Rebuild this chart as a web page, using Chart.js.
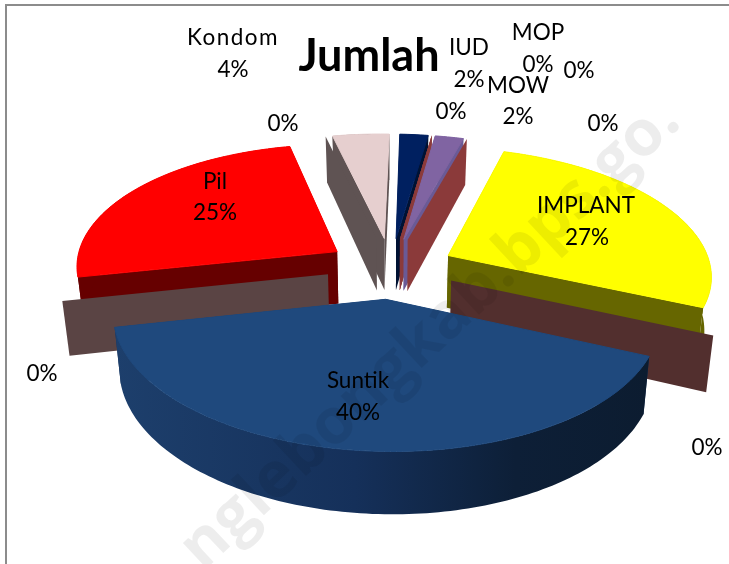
<!DOCTYPE html>
<html>
<head>
<meta charset="utf-8">
<style>
html,body{margin:0;padding:0;background:#fff;}
#wrap{position:absolute;left:0;top:0;width:729px;height:564px;overflow:hidden;}
#frame{position:absolute;left:5px;top:4px;right:-5px;bottom:-5px;border-left:2px solid #8c8c8c;border-top:2px solid #8c8c8c;}
canvas{position:absolute;left:0;top:0;}
</style>
<script src="https://cdn.jsdelivr.net/npm/chart.js@4"></script>
</head>
<body>
<div id="wrap"><div id="frame"></div><canvas id="c" width="729" height="564"></canvas></div>
<script>
// ---- data ----
const categories = ['IUD','','MOP','','MOW','','IMPLANT','','Suntik','','Pil','','Kondom'];
const values     = [2,0,0,0,2,0,27,0,40,0,25,0,4];
const titleText  = 'Jumlah';
const watermark  = 'nglebongkab.bps.go.';

// ---- styles ----
const topColors  = ['#002060','#8b3a3a','#8b3a3a','#8b3a3a','#8064a2','#8b3a3a','#ffff00','#522f2e','#1f497d','#5a4444','#ff0000','#5f5353','#e6cfcf'];
const sideColors = ['#001233','#8b3a3a','#8b3a3a','#8b3a3a','#6a5a96','#8b3a3a','#666600','#522f2e','#14305a','#5a4444','#660000','#5f5353','#5f5353'];
// label anchors: [name x, name y, value x, value y]
const labelAnchors = [
  [469,48,469,80],[0,0,451,112],[538,33,538,65],[0,0,579,71],[518,86,518,117],[0,0,603,124],
  [586,206,587,238],[0,0,707,448],[358,381,358,413],[0,0,42,374],[215,182,215,213],[0,0,283,124],[233,38,233,70]
];
// view of the tilted, exploded pie
const view = {cx:391, cy:268, a:124.5, b:-0.1256, c:262.5, skew:0.025, drop:53, taper:0.978, explode:0.245};

function project(X, Y, low){
  const d = 1 + view.b*Y;
  let x = view.cx + view.c*(X + view.skew*Y)/d;
  let y = view.cy + view.a*Y/d;
  if(low){ y += view.drop/d; x = view.cx + (x-view.cx)*view.taper; }
  return [x,y];
}
function poly(ctx, pts, fill, seal){
  ctx.beginPath();
  pts.forEach((p,i)=> i?ctx.lineTo(p[0],p[1]):ctx.moveTo(p[0],p[1]));
  ctx.closePath();
  ctx.fillStyle = fill;
  ctx.fill();
  if(seal){ ctx.strokeStyle = fill; ctx.lineWidth = 1; ctx.lineJoin='round'; ctx.stroke(); }
}
const pie3d = {
  id:'pie3d',
  beforeDatasetDraw(chart, args){
    const ctx = chart.ctx, arcs = args.meta.data;
    const items = arcs.map((el,i)=>{
      const p = el.getProps(['startAngle','endAngle'], true);
      const mid = (p.startAngle+p.endAngle)/2;
      return {i, s:p.startAngle, e:p.endAngle, ox:view.explode*Math.cos(mid), oy:view.explode*Math.sin(mid)};
    }).sort((m,n)=>m.oy-n.oy);
    items.forEach(it=>{
      const top = topColors[it.i], side = sideColors[it.i];
      const apex = [it.ox,it.oy];
      const rim = [];
      const n = Math.max(1, Math.ceil((it.e-it.s)/0.02));
      for(let k=0;k<=n;k++){
        const a = it.s + (it.e-it.s)*k/n;
        rim.push([it.ox+Math.cos(a), it.oy+Math.sin(a)]);
      }
      const P = (q,low)=>project(q[0],q[1],low);
      const first = rim[0], last = rim[rim.length-1];
      // cut walls
      poly(ctx,[P(apex),P(first),P(first,true),P(apex,true)],side);
      if(it.e>it.s) poly(ctx,[P(apex),P(last),P(last,true),P(apex,true)],side);
      if(it.e>it.s){
        // rim wall
        let fill = side;
        if(categories[it.i]==='Suntik'){
          const g = ctx.createLinearGradient(P(last)[0],0,P(first)[0],0);
          g.addColorStop(0,'#1d3f6c'); g.addColorStop(0.45,'#15305a'); g.addColorStop(0.75,'#0d1f37'); g.addColorStop(1,'#0c1c30');
          fill = g;
        }
        const wall = rim.map(q=>P(q)).concat(rim.slice().reverse().map(q=>P(q,true)));
        poly(ctx,wall,fill);
        // top face
        poly(ctx,[P(apex)].concat(rim.map(q=>P(q))),top,true);
      }
    });
    return false;
  },
  afterDraw(chart){
    const ctx = chart.ctx;
    ctx.save();
    // watermark
    ctx.save();
    ctx.translate(203,572);
    ctx.rotate(-43*Math.PI/180);
    ctx.font = 'bold 64px "Open Sans"';
    ctx.fillStyle = 'rgba(0,0,0,0.07)';
    ctx.textAlign='left'; ctx.textBaseline='alphabetic';
    ctx.fillText(watermark,0,0);
    ctx.restore();
    // data labels
    ctx.font = '22.5px Lato';
    ctx.fillStyle = '#000';
    ctx.textAlign='center'; ctx.textBaseline='middle';
    values.forEach((v,i)=>{
      const q = labelAnchors[i];
      if(categories[i]){
        ctx.letterSpacing = categories[i]==='Kondom' ? '1.5px' : '0px';
        ctx.fillText(categories[i],q[0],q[1]);
        ctx.letterSpacing = '0px';
      }
      ctx.fillText(v+'%',q[2],q[3]);
    });
    // title
    ctx.font = 'bold 45px Lato';
    ctx.fillStyle = '#000';
    ctx.fillText(titleText,369,56);
    ctx.restore();
  }
};
new Chart(document.getElementById('c'),{
  type:'pie',
  data:{labels:categories,datasets:[{data:values,backgroundColor:topColors,borderWidth:0}]},
  options:{
    responsive:false,
    animation:false,
    rotation:2.5,
    plugins:{legend:{display:false},tooltip:{enabled:false}}
  },
  plugins:[pie3d]
});
</script>
</body>
</html>
